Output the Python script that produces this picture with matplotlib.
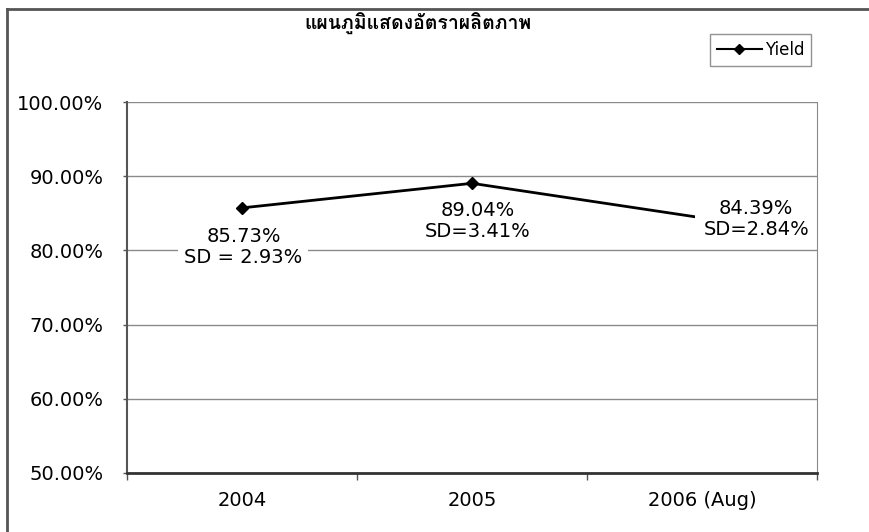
import matplotlib
matplotlib.use('Agg')
import matplotlib.pyplot as plt
from matplotlib import font_manager
from matplotlib.ft2font import FT2Font
from matplotlib.lines import Line2D

years = ['2004', '2005', '2006 (Aug)']
yield_pct = [85.73, 89.04, 84.39]
sd_pct = [2.93, 3.41, 2.84]
sd_fmt = ['SD = {:.2f}%', 'SD={:.2f}%', 'SD={:.2f}%']
yticks = [50, 60, 70, 80, 90, 100]
title = 'แผนภูมิแสดงอัตราผลิตภาพ'


def thai_font():
    # first installed family that has Thai glyphs
    for f in font_manager.fontManager.ttflist:
        try:
            if 0x0E41 in FT2Font(f.fname).get_charmap():
                return f.name
        except Exception:
            pass
    return 'DejaVu Sans'


plt.rcParams['font.family'] = 'DejaVu Sans'
W, H = 870, 532
fig = plt.figure(figsize=(W / 100, H / 100), dpi=100)

# plot area in pixels: left 127, right 817, top 102, bottom 473
ax = fig.add_axes([127 / W, 1 - 473 / H, 690 / W, 371 / H])
x = list(range(len(years)))
# line sits under the label boxes, which sit under the spines
ax.plot(x, yield_pct, color='black', lw=2, marker='D', ms=6, zorder=2.2)

ax.set_xlim(-0.5, len(years) - 0.5)
ax.set_ylim(50, 100)
ax.set_yticks(yticks)
ax.set_yticklabels([f'{v:.2f}%' for v in yticks], fontsize=14)
ax.set_xticks(x)
ax.set_xticklabels(years, fontsize=14)
ax.set_xticks([i - 0.5 for i in range(len(years) + 1)], minor=True)
ax.tick_params(axis='x', which='major', length=0, pad=13)
ax.tick_params(axis='x', which='minor', length=5, width=1, color='#555555')
ax.tick_params(axis='y', length=3, width=1, color='#555555', pad=14)
ax.yaxis.grid(True, color='#8a8a8a', lw=1)
ax.set_axisbelow(True)
ax.spines['top'].set_visible(False)
ax.spines['right'].set_color('#8a8a8a')
ax.spines['left'].set_color('#555555')
ax.spines['bottom'].set_color('#333333')
ax.spines['left'].set_linewidth(1.5)
ax.spines['bottom'].set_linewidth(2)

# data labels with white boxes: offsets in points from each marker, box pad
offsets = [(1, -28), (4, -27), (39, -1)]
pads = [0.3, 0.1, 0.45]
for i, (v, s) in enumerate(zip(yield_pct, sd_pct)):
    txt = f'{v:.2f}%\n' + sd_fmt[i].format(s)
    ax.annotate(txt, (i, v), xytext=offsets[i], textcoords='offset points',
                ha='center', va='center', fontsize=14, linespacing=1.15,
                bbox=dict(boxstyle=f'square,pad={pads[i]}', fc='white', ec='none'),
                zorder=2.4)

fig.text(418 / W, 1 - 24 / H, title, ha='center', va='center',
         fontsize=14, fontweight='bold', family=[thai_font(), 'DejaVu Sans'])

handle = Line2D([], [], color='black', lw=1.5, marker='D', ms=5)
leg = fig.legend([handle], ['Yield'], loc='upper left',
                 bbox_to_anchor=(702 / W, 1 - 26 / H), fontsize=12,
                 frameon=True, fancybox=False, handlelength=2.7,
                 borderpad=0.4, handletextpad=0.2)
leg.get_frame().set_edgecolor('#777777')
leg.get_frame().set_linewidth(1)

# chart area border along the top and left
fig.add_artist(Line2D([7 / W, 7 / W], [0, 1 - 9 / H], color='#555555', lw=2))
fig.add_artist(Line2D([7 / W, 1], [1 - 9 / H, 1 - 9 / H], color='#555555', lw=2))

fig.savefig('out.png', dpi=100)
